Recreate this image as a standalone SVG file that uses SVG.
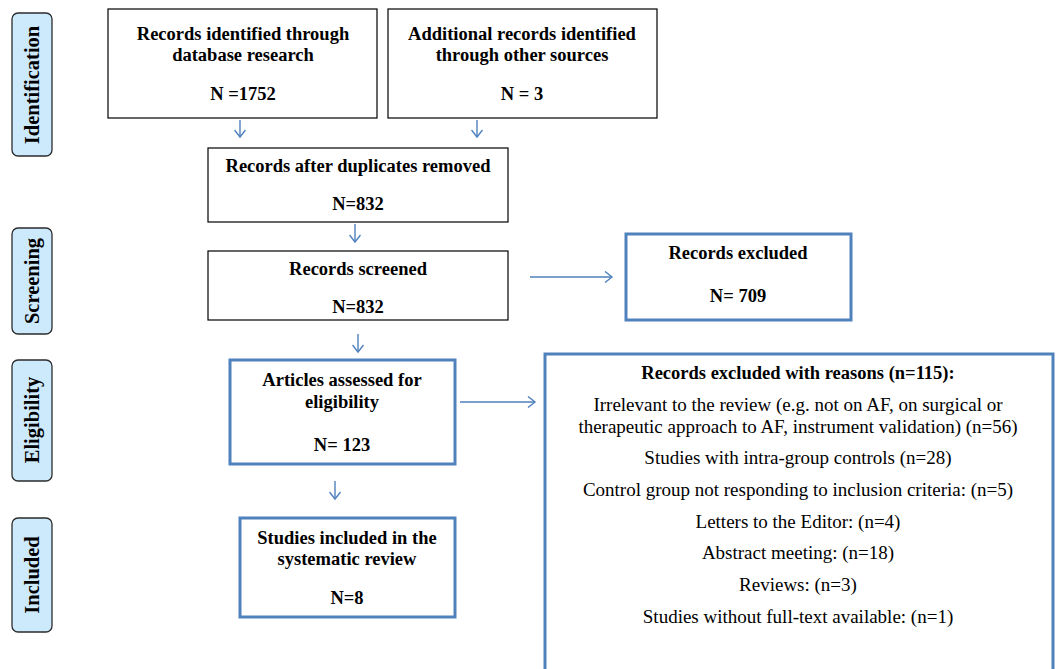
<svg xmlns="http://www.w3.org/2000/svg" width="1058" height="669" viewBox="0 0 1058 669">
<style>
.lab rect{fill:#cdeafd;stroke:#2b2b2b;stroke-width:1.3}
.lab text{font-family:"Liberation Serif",serif;font-weight:bold;font-size:20.5px;fill:#000;text-anchor:middle}
.bk{fill:#fff;stroke:#000;stroke-width:1.2}
.bl{fill:#fff;stroke:#4f81bd;stroke-width:3}
.t{font-family:"Liberation Serif",serif;font-weight:bold;font-size:18.5px;fill:#000;text-anchor:middle}
.r{font-family:"Liberation Serif",serif;font-size:19px;fill:#000;text-anchor:middle}
.c line{stroke:#4f81bd;stroke-width:1.4;marker-end:url(#ah)}
</style>
<defs>
<marker id="ah" markerWidth="12" markerHeight="12" refX="9" refY="6" orient="auto" markerUnits="userSpaceOnUse">
<polyline points="2,0.5 9,6 2,11.5" fill="none" stroke="#4f81bd" stroke-width="1.4"/>
</marker>
</defs>
<rect width="1058" height="669" fill="#fff"/>
<g id="lab-identification" class="lab"><rect x="12" y="13" width="40" height="143" rx="6"/><text transform="translate(39,85) rotate(-90)">Identification</text></g>
<g id="lab-screening" class="lab"><rect x="12" y="228" width="40" height="106" rx="6"/><text transform="translate(39,281) rotate(-90)">Screening</text></g>
<g id="lab-eligibility" class="lab"><rect x="12" y="360" width="40" height="121" rx="6"/><text transform="translate(39,420) rotate(-90)">Eligibility</text></g>
<g id="lab-included" class="lab"><rect x="12" y="518" width="40" height="114" rx="6"/><text transform="translate(39,575) rotate(-90)">Included</text></g>
<g class="c" id="connectors">
<line x1="240" y1="120" x2="240" y2="137"/>
<line x1="477" y1="120" x2="477" y2="137"/>
<line x1="355" y1="224" x2="355" y2="242"/>
<line x1="530" y1="277" x2="612" y2="277"/>
<line x1="358" y1="334" x2="358" y2="352"/>
<line x1="460" y1="402" x2="535" y2="402"/>
<line x1="335" y1="481" x2="335" y2="499"/>
</g>
<g id="n-db"><rect class="bk" x="108" y="9" width="269" height="109"/><text class="t" x="243" y="40">Records identified through</text><text class="t" x="243" y="61">database research</text><text class="t" x="243" y="100">N =1752</text></g>
<g id="n-other"><rect class="bk" x="388" y="9" width="269" height="109"/><text class="t" x="522" y="40">Additional records identified</text><text class="t" x="522" y="61">through other sources</text><text class="t" x="522" y="100">N = 3</text></g>
<g id="n-dup"><rect class="bk" x="208" y="148" width="300" height="74"/><text class="t" x="358" y="172">Records after duplicates removed</text><text class="t" x="358" y="210">N=832</text></g>
<g id="n-screened"><rect class="bk" x="208" y="251" width="300" height="69"/><text class="t" x="358" y="275">Records screened</text><text class="t" x="358" y="313">N=832</text></g>
<g id="n-excluded"><rect class="bl" x="626" y="234" width="225" height="86"/><text class="t" x="738" y="259">Records excluded</text><text class="t" x="738" y="302">N= 709</text></g>
<g id="n-assessed"><rect class="bl" x="230" y="360" width="225" height="104"/><text class="t" x="342" y="386">Articles assessed for</text><text class="t" x="342" y="408">eligibility</text><text class="t" x="342" y="451">N= 123</text></g>
<g id="n-reasons"><rect class="bl" x="545" y="354" width="508" height="330"/>
<text class="t" x="798" y="379">Records excluded with reasons (n=115):</text>
<text class="r" x="798" y="411">Irrelevant to the review (e.g. not on AF, on surgical or</text>
<text class="r" x="798" y="433">therapeutic approach to AF, instrument validation) (n=56)</text>
<text class="r" x="798" y="464">Studies with intra-group controls (n=28)</text>
<text class="r" x="798" y="496">Control group not responding to inclusion criteria: (n=5)</text>
<text class="r" x="798" y="528">Letters to the Editor: (n=4)</text>
<text class="r" x="798" y="559">Abstract meeting: (n=18)</text>
<text class="r" x="798" y="591">Reviews: (n=3)</text>
<text class="r" x="798" y="623">Studies without full-text available: (n=1)</text>
</g>
<g id="n-included"><rect class="bl" x="240" y="518" width="215" height="99"/><text class="t" x="347" y="544">Studies included in the</text><text class="t" x="347" y="565">systematic review</text><text class="t" x="347" y="604">N=8</text></g>
</svg>
